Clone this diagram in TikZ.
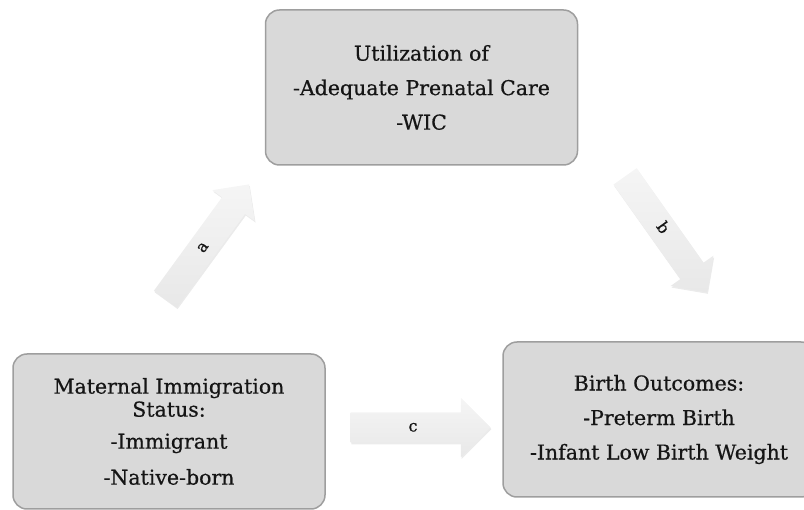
\documentclass[tikz,border=0pt]{standalone}
\usepackage{fontspec}
\setmainfont{DejaVu Serif}[FakeBold=0.6]
\usetikzlibrary{shapes.arrows,shadows}
\definecolor{boxfill}{HTML}{D9D9D9}
\definecolor{boxline}{HTML}{9E9E9E}
\definecolor{arrowtop}{HTML}{F5F5F5}
\definecolor{arrowbot}{HTML}{E8E8E8}
\definecolor{txt}{HTML}{151515}
\begin{document}
\begin{tikzpicture}[x=1pt,y=-1pt,
  box/.style={draw=boxline, line width=1.5pt, fill=boxfill, rounded corners=14pt,
    minimum width=312pt, minimum height=155pt, inner sep=0pt, align=center,
    text=txt, font=\fontsize{20.5}{34.5}\selectfont},
  blockarrow/.style={single arrow, single arrow head indent=0pt,
    top color=arrowtop, bottom color=arrowbot, draw=none,
    drop shadow={shadow xshift=0.8pt, shadow yshift=-1.6pt, opacity=0.16},
    inner xsep=0pt, inner ysep=0pt, minimum width=0pt,
    text=txt, font=\fontsize{16}{16}\selectfont},
  thinarrow/.style={blockarrow, text height=18pt, text depth=10pt,
    single arrow head extend=12pt, minimum height=142pt},
  widearrow/.style={blockarrow, text height=19pt, text depth=11pt,
    single arrow head extend=14.5pt, minimum height=140pt}
  ]
\useasboundingbox (0,0) rectangle (804,510);
\node[box] (util) at (421.5,87.5) {Utilization of\\-Adequate Prenatal Care\\-WIC};
\node[box] (mat) at (169,431.5) {Maternal Immigration\\[-11.5pt]Status:\\[-2.5pt]-Immigrant\\[1.5pt]-Native-born};
\node[box] (out) at (659,419.5) {Birth Outcomes:\\-Preterm Birth\\-Infant Low Birth Weight};
\node[thinarrow, rotate=53.9] (arra) at (203,247.5) {a};
\node[thinarrow, rotate=-54.7] (arrb) at (662,228.5) {b};
\node[widearrow] (arrc) at (413,427.5) {c};
\end{tikzpicture}
\end{document}
